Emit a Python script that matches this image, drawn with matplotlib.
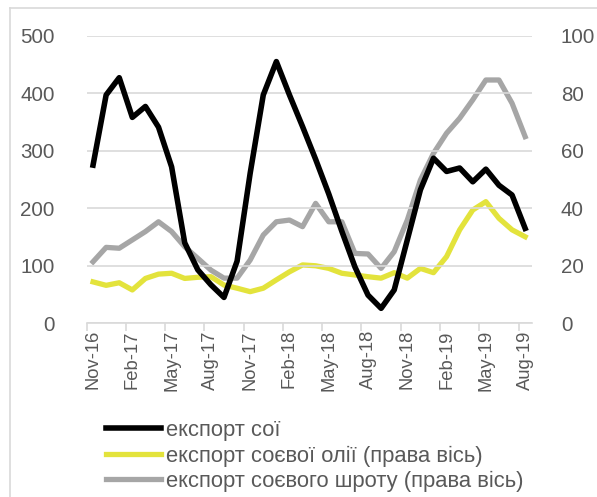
import matplotlib
matplotlib.use("Agg")
import matplotlib.pyplot as plt
from matplotlib.lines import Line2D

plt.rcParams['font.family'] = ['Liberation Sans', 'DejaVu Sans']

months = ["Nov-16", "Dec-16", "Jan-17", "Feb-17", "Mar-17", "Apr-17", "May-17", "Jun-17",
          "Jul-17", "Aug-17", "Sep-17", "Oct-17", "Nov-17", "Dec-17", "Jan-18", "Feb-18",
          "Mar-18", "Apr-18", "May-18", "Jun-18", "Jul-18", "Aug-18", "Sep-18", "Oct-18",
          "Nov-18", "Dec-18", "Jan-19", "Feb-19", "Mar-19", "Apr-19", "May-19", "Jun-19",
          "Jul-19", "Aug-19"]

soy = [275, 397, 427, 358, 377, 341, 272, 140, 93, 67, 45, 108, 261, 397, 455, 397,
       342, 285, 225, 160, 98, 49, 26, 58, 145, 232, 287, 264, 270, 246, 268, 240, 223, 165]

soy_oil = [14.4, 13.2, 14.1, 11.6, 15.6, 17.1, 17.4, 15.6, 16.0, 16.2, 13.3, 12.2,
           11.0, 12.2, 15.1, 17.9, 20.3, 20.0, 19.1, 17.4, 16.8, 16.2, 15.7, 17.6,
           15.7, 19.1, 17.6, 23.2, 32.5, 39.4, 42.3, 36.5, 32.5, 30.1]

soy_meal = [21.4, 26.4, 26.1, 29.0, 31.9, 35.3, 31.9, 26.6, 22.6, 18.5, 15.7, 15.7,
            22.0, 30.7, 35.3, 35.9, 33.6, 41.7, 35.3, 35.3, 24.3, 24.1, 19.1, 24.9,
            35.9, 49.8, 59.1, 66.1, 71.3, 77.7, 84.6, 84.6, 76.5, 64.9]

labels = ["експорт сої", "експорт соєвої олії (права вісь)", "експорт соєвого шроту (права вісь)"]

W, H = 597, 497
fig = plt.figure(figsize=(W / 100, H / 100), dpi=100)
ax = fig.add_axes([86.5 / W, 1 - 323.3 / H, (531.7 - 86.5) / W, (323.3 - 35.7) / H])
ax2 = ax.twinx()

x = list(range(len(months)))
tick_col = '#595959'
grid_col = '#D9D9D9'

l1, = ax.plot(x, soy, color='black', lw=4.0, zorder=5)
l2, = ax2.plot(x, soy_oil, color='#E3E33C', lw=3.8, zorder=3)
l3, = ax2.plot(x, soy_meal, color='#A6A6A6', lw=3.8, zorder=4)
ax.set_zorder(ax2.get_zorder() + 1)
ax.patch.set_visible(False)

ax.set_xlim(-0.5, 33.5)
ax.set_ylim(0, 500)
ax2.set_ylim(0, 100)
ax.set_yticks(range(0, 501, 100))
ax2.set_yticks(range(0, 101, 20))
ax.grid(axis='y', color=grid_col, lw=1.2, zorder=0)
ax.set_axisbelow(True)

ax.set_xticks([i - 0.5 for i in range(0, 34, 3)])
ax.set_xticklabels([])
ax.set_xticks(list(range(0, 34, 3)), minor=True)
ax.set_xticklabels([months[i] for i in range(0, 34, 3)], minor=True, rotation=90,
                   fontsize=13.2, color=tick_col)
ax.tick_params(axis='x', which='major', length=6, color=grid_col, width=1.2, direction='out')
ax.tick_params(axis='x', which='minor', length=0, pad=5)
ax.tick_params(axis='y', length=0, pad=23, labelsize=14.8, labelcolor=tick_col)
ax2.tick_params(axis='y', length=0, pad=21, labelsize=14.8, labelcolor=tick_col)

for a in (ax, ax2):
    for s in ('top', 'left', 'right'):
        a.spines[s].set_visible(False)
ax.spines['bottom'].set_color(grid_col)
ax.spines['bottom'].set_linewidth(1.2)
ax2.spines['bottom'].set_visible(False)

leg = fig.legend([l1, l2, l3], labels, loc='upper left',
                 bbox_to_anchor=(106 / W, 1 - 420 / H), frameon=False,
                 fontsize=15.8, labelcolor=tick_col, handlelength=2.5,
                 handletextpad=0.25, labelspacing=0.2, borderaxespad=0,
                 borderpad=0)

fig.add_artist(Line2D([10 / W, 10 / W], [0, 1 - 8 / H], transform=fig.transFigure,
                      color='#D9D9D9', lw=1.2))
fig.add_artist(Line2D([10 / W, 1], [1 - 8 / H, 1 - 8 / H], transform=fig.transFigure,
                      color='#D9D9D9', lw=1.2))

fig.savefig('out.png', dpi=100)
